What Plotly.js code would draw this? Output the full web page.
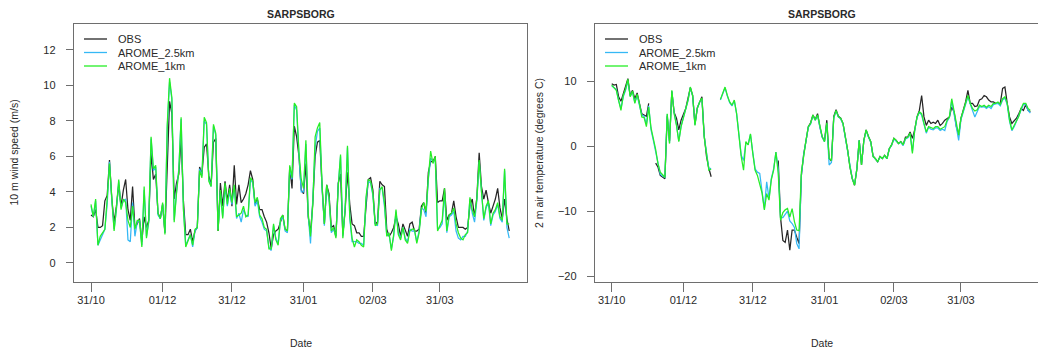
<!DOCTYPE html>
<html>
<head>
<meta charset="utf-8">
<script src="https://cdn.plot.ly/plotly-3.0.1.min.js"></script>
<style>
  html, body { margin: 0; padding: 0; background: #fff; }
  #chart { width: 1038px; height: 351px; }
</style>
</head>
<body>
<div id="chart"></div>
<script>
// Daily series for SARPSBORG, 31/10 to 30/04
const startDate = '2018-10-31';
const stationName = 'SARPSBORG';
const seriesNames = ['OBS', 'AROME_2.5km', 'AROME_1km'];
const tickDates = ['2018-10-31', '2018-12-01', '2018-12-31', '2019-01-31', '2019-03-02', '2019-03-31'];
const tickLabels = ['31/10', '01/12', '31/12', '31/01', '02/03', '31/03'];

// 10 m wind speed (m/s)
const windObs = [
  2.7, 2.6, 3.0, 2.0, 2.0, 2.1, 3.5, 3.8, 5.8, 3.6,
  2.3, 3.2, 4.4, 3.2, 4.1, 4.7, 3.0, 2.4, 4.3, 2.0,
  2.2, 2.5, 1.2, 2.6, 2.0, 2.4, 6.2, 4.7, 5.0, 2.8,
  2.5, 3.3, 1.7, 5.5, 9.1, 8.4, 3.6, 4.5, 5.0, 7.0,
  3.5, 1.6, 1.6, 1.9, 1.2, 1.8, 2.0, 5.4, 5.0, 6.5,
  6.7, 4.9, 4.4, 6.8, 7.0, 1.8, 4.5, 3.2, 4.6, 3.5,
  4.4, 3.2, 5.5, 3.3, 4.4, 3.4, 3.6, 3.9, 4.4, 5.2,
  4.7, 3.3, 3.6, 3.0, 3.0, 2.6, 2.3, 1.7, 0.8, 1.6,
  1.8, 1.9, 2.3, 2.7, 1.9, 1.8, 5.4, 4.2, 7.7, 7.1,
  6.0, 4.1, 3.9, 5.6, 2.6, 1.7, 3.4, 6.0, 6.8, 6.9,
  4.3, 2.2, 4.4, 3.9, 2.0, 2.1, 1.5, 4.5, 5.0, 1.6,
  3.0, 5.1, 3.3, 2.2, 2.1, 1.7, 1.7, 1.5, 1.5, 3.0,
  4.7, 4.8, 4.1, 2.2, 2.3, 4.6, 4.4, 4.3, 1.9, 1.5,
  1.7, 2.0, 2.6, 2.2, 1.5, 2.2, 1.8, 1.5, 2.2, 2.3,
  1.8, 1.8, 1.9, 3.2, 3.4, 2.8, 5.1, 5.7, 5.7, 6.0,
  3.4, 3.5, 3.5, 4.2, 2.4, 2.7, 2.8, 3.5, 2.6, 2.0,
  2.0, 2.0, 1.9, 2.0, 3.2, 3.6, 2.6, 3.7, 6.2, 4.3,
  3.6, 4.1, 3.4, 2.8, 3.2, 3.6, 4.2, 3.1, 2.5, 3.6,
  2.5, 1.8
];
const windArome25 = [
  3.2, 2.6, 3.5, 1.0, 1.3, 1.6, 1.9, 3.3, 5.7, 3.5,
  1.9, 3.0, 4.6, 3.1, 3.5, 3.6, 1.3, 1.2, 3.4, 1.5,
  2.3, 2.4, 1.0, 4.1, 1.5, 2.3, 7.0, 5.2, 5.4, 2.7,
  2.5, 3.3, 1.7, 7.6, 10.2, 9.2, 2.4, 4.0, 5.3, 8.1,
  3.1, 1.0, 1.3, 1.6, 0.9, 1.8, 2.0, 5.3, 4.9, 8.0,
  7.8, 4.7, 4.3, 7.7, 7.2, 1.9, 4.0, 2.6, 4.3, 3.2,
  4.0, 3.3, 4.3, 2.5, 2.8, 2.3, 3.0, 2.7, 2.6, 4.7,
  4.5, 3.2, 3.5, 2.6, 2.3, 1.9, 1.8, 0.9, 0.7, 2.1,
  1.4, 1.1, 2.4, 2.6, 1.8, 1.7, 5.3, 4.7, 8.9, 8.6,
  6.1, 4.0, 4.0, 6.7, 2.7, 1.1, 3.6, 6.5, 7.4, 7.6,
  4.2, 2.1, 4.3, 3.6, 1.7, 1.9, 1.5, 4.4, 6.0, 1.5,
  3.1, 6.5, 2.5, 1.2, 1.2, 1.2, 1.1, 1.1, 1.0, 3.5,
  4.6, 4.5, 3.8, 2.2, 2.1, 4.2, 4.2, 3.2, 1.6, 1.6,
  0.8, 1.5, 2.9, 1.7, 1.4, 2.0, 1.4, 1.2, 1.9, 1.8,
  1.8, 1.2, 1.8, 3.1, 3.0, 2.6, 4.7, 5.9, 5.7, 5.8,
  1.9, 2.0, 2.2, 3.9, 1.7, 2.6, 2.7, 2.9, 1.8, 1.4,
  1.3, 1.5, 1.5, 1.8, 3.6, 2.8, 2.3, 3.5, 5.7, 4.1,
  2.4, 3.1, 3.4, 2.1, 2.7, 2.9, 3.3, 2.5, 2.3, 5.2,
  2.0, 1.4
];
const windArome1 = [
  3.3, 2.6, 3.6, 1.0, 1.5, 1.7, 1.9, 3.6, 5.6, 3.7,
  1.8, 3.1, 4.7, 3.0, 3.6, 3.4, 2.4, 2.0, 3.2, 1.9,
  2.4, 2.4, 0.9, 4.3, 1.4, 2.4, 7.1, 5.3, 5.5, 2.8,
  2.5, 3.4, 1.6, 7.8, 10.4, 9.3, 2.3, 3.9, 5.2, 8.2,
  3.0, 0.9, 1.2, 1.6, 1.0, 1.9, 2.0, 5.2, 4.8, 8.2,
  7.9, 4.6, 4.3, 7.8, 7.3, 1.8, 4.1, 2.5, 4.5, 3.3,
  4.2, 3.4, 4.4, 2.6, 2.7, 2.8, 3.2, 2.6, 2.7, 4.8,
  4.6, 3.4, 3.7, 2.7, 2.5, 2.0, 1.9, 0.8, 0.8, 2.2,
  1.3, 1.0, 2.5, 2.7, 1.9, 1.8, 5.5, 4.8, 9.0, 8.8,
  6.2, 4.7, 4.2, 6.9, 2.8, 1.5, 3.3, 7.1, 7.6, 7.9,
  4.4, 2.2, 4.4, 3.7, 1.8, 2.0, 1.4, 4.3, 6.1, 1.4,
  3.0, 6.6, 2.6, 1.4, 0.9, 1.3, 1.2, 1.0, 0.9, 3.7,
  4.7, 4.6, 3.9, 2.1, 2.2, 4.1, 4.3, 3.4, 1.5, 1.7,
  0.7, 1.6, 3.0, 1.6, 1.3, 2.0, 1.3, 1.1, 1.8, 1.9,
  1.9, 1.1, 1.7, 3.0, 3.4, 2.9, 4.8, 6.3, 5.6, 6.0,
  1.8, 2.1, 2.4, 4.2, 1.8, 2.7, 2.8, 3.1, 2.2, 1.7,
  1.4, 1.3, 1.6, 1.7, 3.7, 3.0, 2.6, 3.6, 5.8, 4.0,
  2.5, 3.2, 3.5, 2.2, 2.8, 3.0, 3.4, 2.6, 2.4, 5.3,
  2.2, 2.2
];

// 2 m air temperature (degrees C); null = missing
const tempObs = [
  9.6, 9.4, 9.5, 7.6, 6.9, 8.0, 9.0, 10.4, 7.8, 8.6,
  7.3, 8.2, 6.6, 5.0, 4.8, 4.6, 6.6, null, null, -2.6,
  -3.2, -4.5, -4.7, -5.0, 4.6, 0.8, 8.4, 5.2, 4.3, 2.5,
  4.0, 4.8, 5.8, 7.4, 9.0, 7.8, 3.4, 5.9, 6.9, 7.6,
  1.6, -1.6, -3.4, -4.7, null, null, null, null, null, null,
  null, null, null, null, null, null, null, null, null, null,
  null, null, null, null, null, null, null, null, null, null,
  null, null, -2.2, -11.0, -14.5, -14.8, -12.9, -16.0, -12.9, -12.9,
  -14.0, -15.0, -4.5, -1.2, 0.8, 3.0, 3.6, 4.8, 4.1, 5.0,
  3.0, 1.4, 0.8, 4.0, -1.9, -2.3, 4.6, 5.6, 4.6, 4.3,
  3.5, 1.5, -0.6, -3.2, -5.0, -6.0, -3.5, 0.9, -2.9, 0.9,
  2.5, 1.5, 0.7, -1.5, -1.9, -2.4, -1.6, -1.9, -1.4, -1.9,
  -0.4, 0.2, 1.2, 0.9, 0.4, 0.7, 0.2, 1.4, 1.4, 2.2,
  1.2, 2.5, 4.5, 5.5, 7.8, 4.5, 3.2, 4.0, 3.5, 3.7,
  3.5, 4.0, 3.2, 3.5, 4.0, 4.3, 4.5, 6.0, 5.3, 3.0,
  1.7, 4.3, 5.5, 6.8, 8.6, 6.6, 6.6, 6.1, 6.2, 7.1,
  7.3, 7.8, 7.6, 7.1, 6.8, 6.8, 6.6, 6.6, 6.6, 8.9,
  9.1, 6.6, 4.5, 3.5, 4.0, 4.3, 5.0, 5.8, 5.5, 6.4,
  5.5, 5.3
];
const tempArome25 = [
  9.3, 9.0, 8.7, 7.0, 5.8, 7.6, 8.6, 10.0, 7.7, 8.3,
  6.7, 7.8, 6.4, 4.8, 4.6, 3.4, 6.2, 2.5, 0.9, -0.8,
  -2.9, -4.3, -4.6, -4.8, 4.9, 0.5, 8.5, 5.1, 3.3, 0.8,
  3.1, 4.4, 5.5, 7.0, 9.0, 7.7, 3.3, 5.8, 6.8, 7.3,
  1.5, -1.4, -3.5, -3.4, null, null, null, 7.1, 8.1, 9.0,
  7.7, 6.7, 6.2, 7.0, 5.0, 1.5, -1.4, -2.2, 0.5, 0.3,
  1.8, -1.0, -3.5, -4.0, -4.2, -7.0, -9.6, -5.5, -8.0, -5.0,
  -3.5, -0.9, -3.5, -11.0, -11.0, -10.5, -10.0, -11.5, -11.9, -12.5,
  -15.0, -15.8, -4.5, -1.3, 0.8, 2.9, 3.4, 4.7, 4.0, 4.7,
  2.9, 1.4, 0.7, 3.5, -2.9, -2.5, 4.3, 5.4, 4.5, 4.2,
  3.4, 1.4, -0.6, -3.2, -5.0, -5.9, -3.4, 0.9, -2.8, 0.8,
  2.4, 1.4, 0.6, -1.6, -2.0, -2.4, -1.7, -1.9, -1.5, -1.9,
  -0.4, 0.1, 1.1, 0.8, 0.4, 0.6, 0.1, 1.1, 1.3, 1.9,
  -0.8, 2.4, 4.4, 5.2, 4.8, 3.4, 2.0, 2.9, 2.6, 2.5,
  2.8, 2.8, 2.4, 2.6, 2.4, 3.8, 4.4, 7.0, 5.1, 3.0,
  0.9, 4.1, 5.4, 6.7, 7.6, 6.5, 5.6, 4.5, 5.3, 6.1,
  6.0, 6.1, 5.8, 6.1, 5.8, 6.4, 6.5, 6.6, 6.2, 7.1,
  7.4, 6.4, 3.8, 2.4, 3.0, 3.9, 4.5, 5.6, 6.4, 6.5,
  5.5, 5.1
];
const tempArome1 = [
  9.4, 9.0, 8.6, 7.0, 5.5, 7.8, 8.8, 10.3, 7.6, 8.5,
  6.6, 8.0, 6.5, 4.5, 4.4, 3.0, 6.0, 2.8, 1.2, -0.5,
  -2.7, -4.0, -4.4, -4.8, 5.0, 0.4, 8.6, 5.0, 3.2, 0.7,
  3.0, 4.5, 5.5, 7.1, 9.1, 7.8, 3.2, 5.8, 6.8, 7.4,
  1.4, -1.5, -3.7, -3.5, null, null, null, 7.2, 8.2, 9.1,
  7.8, 6.8, 6.3, 7.1, 5.0, 1.2, -1.6, -3.7, 0.7, 0.2,
  1.9, -1.1, -3.7, -4.5, -5.7, -7.2, -9.8, -7.3, -8.3, -5.2,
  -3.7, -0.9, -4.2, -11.4, -10.2, -9.8, -9.6, -10.9, -9.6, -11.6,
  -12.9, -13.0, -4.0, -1.1, 0.9, 3.0, 3.5, 4.8, 4.0, 4.8,
  3.0, 1.5, 0.7, 3.6, -1.9, -2.2, 4.4, 5.5, 4.5, 4.3,
  3.5, 1.5, -0.6, -3.2, -5.0, -6.0, -3.5, 0.9, -2.9, 0.9,
  2.5, 1.5, 0.7, -1.6, -1.9, -2.4, -1.6, -1.9, -1.4, -1.9,
  -0.4, 0.2, 1.2, 0.9, 0.4, 0.7, 0.2, 1.2, 1.4, 2.0,
  -1.1, 2.5, 4.5, 5.3, 5.0, 3.5, 2.2, 3.0, 2.8, 2.7,
  3.0, 3.0, 2.6, 2.8, 3.0, 4.0, 4.5, 7.3, 5.3, 3.2,
  1.7, 4.3, 5.5, 6.8, 7.8, 6.6, 5.8, 5.4, 5.6, 6.3,
  6.1, 6.3, 6.0, 6.3, 6.1, 6.6, 6.6, 6.8, 6.4, 7.3,
  7.6, 6.6, 4.0, 2.5, 3.2, 4.0, 4.6, 5.8, 6.6, 6.6,
  5.8, 5.5
];

// ---- helpers ----
const W = 1038, H = 351;
const px = x => x / W;          // pixel column -> paper x
const py = y => 1 - y / H;      // pixel row -> paper y
const DAY = 86400000;
const t0 = Date.parse(startDate + 'T00:00:00Z');
const isoAt = ms => new Date(ms).toISOString().slice(0, 19).replace('T', ' ');
const dayDate = d => isoAt(t0 + d * DAY);
const dates = windObs.map((_, i) => dayDate(i));

const colors = ['#262626', '#35b8f5', '#26ee26'];
const FONT = 'Liberation Sans, Arial, Helvetica, sans-serif';
const axisColor = '#6e6e6e';
const textColor = '#2a2a2a';

function lines(xa, ya, values) {
  return values.map((v, k) => ({
    type: 'scatter', mode: 'lines', x: dates, y: v,
    xaxis: xa, yaxis: ya, name: seriesNames[k],
    line: { color: colors[k], width: 1.25 },
    connectgaps: false, hoverinfo: 'skip', showlegend: false
  }));
}

const data = [
  ...lines('x', 'y', [windObs, windArome25, windArome1]),
  ...lines('x2', 'y2', [tempObs, tempArome25, tempArome1])
];

const plotTop = 24, plotBottom = 282;
const yDomain = [py(plotBottom), py(plotTop)];

const xCommon = {
  type: 'date', showgrid: false, zeroline: false,
  showline: true, mirror: true, linecolor: axisColor, linewidth: 1.2,
  ticks: 'outside', ticklen: 9, tickwidth: 1, tickcolor: axisColor,
  tickmode: 'array', tickvals: tickDates, ticktext: tickLabels,
  tickfont: { family: FONT, size: 11, color: textColor },
  ticklabelstandoff: -1
};
const yCommon = {
  showgrid: false, zeroline: false,
  showline: true, linecolor: axisColor, linewidth: 1.2,
  ticks: 'outside', ticklen: 7, tickwidth: 1, tickcolor: axisColor,
  tickfont: { family: FONT, size: 11, color: textColor },
  ticklabelstandoff: 8
};

// panel geometry (pixels)
const L = { left: 74, right: 527 };
const R = { left: 595, right: 1048 };

const layout = {
  width: W, height: H,
  margin: { l: 0, r: 0, t: 0, b: 0 },
  paper_bgcolor: '#fff', plot_bgcolor: '#fff',
  showlegend: false,
  xaxis: Object.assign({}, xCommon, {
    domain: [px(L.left), px(L.right)], anchor: 'y',
    range: [dayDate(-7.36), dayDate(188.7)]
  }),
  yaxis: Object.assign({}, yCommon, {
    domain: yDomain, anchor: 'x', mirror: true,
    range: [-1.07, 13.45], tickmode: 'array', tickvals: [0, 2, 4, 6, 8, 10, 12]
  }),
  xaxis2: Object.assign({}, xCommon, {
    domain: [px(R.left), 1], anchor: 'y2',
    range: [dayDate(-7.22), dayDate(184.3)]
  }),
  yaxis2: Object.assign({}, yCommon, {
    domain: yDomain, anchor: 'x2', mirror: false,
    range: [-20.9, 18.8], tickmode: 'array', tickvals: [-20, -10, 0, 10]
  }),
  shapes: [],
  annotations: []
};

const ann = (text, x, y, opts) => Object.assign({
  text, xref: 'paper', yref: 'paper', x: px(x), y: py(y),
  xanchor: 'center', yanchor: 'middle', showarrow: false,
  font: { family: FONT, size: 11, color: textColor }
}, opts || {});

function panelText(P, yTitle, yTitleX) {
  const cx = (P.left + P.right) / 2;
  layout.annotations.push(ann('<b>' + stationName + '</b>', cx, 14, { font: { family: FONT, size: 10.5, color: textColor } }));
  layout.annotations.push(ann('Date', cx, 343, { font: { family: FONT, size: 10.5, color: textColor } }));
  layout.annotations.push(ann(yTitle, yTitleX, (plotTop + plotBottom) / 2, { textangle: -90, font: { family: FONT, size: 10.5, color: textColor } }));
  // legend: short line sample followed by the series name
  const rows = [39, 52.5, 66];
  seriesNames.forEach((name, k) => {
    layout.shapes.push({
      type: 'line', xref: 'paper', yref: 'paper',
      x0: px(P.left + 10), x1: px(P.left + 33), y0: py(rows[k]), y1: py(rows[k]),
      line: { color: colors[k], width: 1.3 }
    });
    layout.annotations.push(ann(name, P.left + 42, rows[k], { xanchor: 'left' }));
  });
}
panelText(L, '10 m wind speed (m/s)', 13.5);
panelText(R, '2 m air temperature (degrees C)', 539);

Plotly.newPlot('chart', data, layout, { staticPlot: true, displayModeBar: false });
</script>
</body>
</html>
